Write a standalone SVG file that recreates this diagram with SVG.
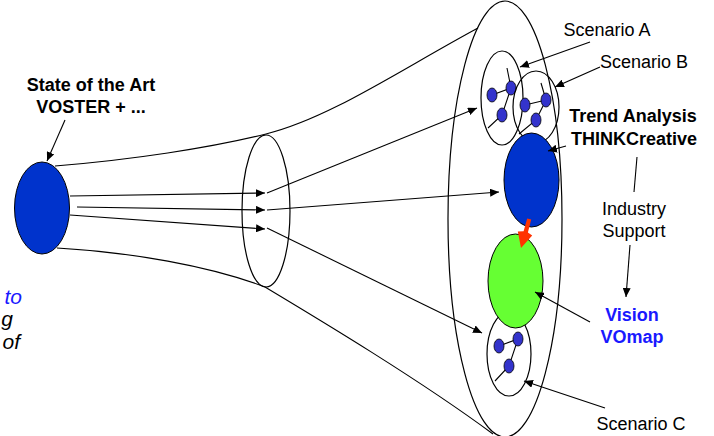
<svg xmlns="http://www.w3.org/2000/svg" width="714" height="436" viewBox="0 0 714 436">
<defs>
<style>
.ln{fill:none;stroke:#000;stroke-width:1.1}
.ol{fill:none;stroke:#000;stroke-width:1.2}
.t{font-family:"Liberation Sans",Arial,sans-serif;font-size:18px;fill:#000}
.b{font-weight:bold}
.blue{fill:#1919ff}
.it{font-family:"Liberation Sans",Arial,sans-serif;font-size:21px;font-style:italic}
.nd{fill:#3333cc;stroke:#000;stroke-width:0.8}
</style>
<marker id="ah" markerWidth="9" markerHeight="8" refX="9" refY="4" orient="auto" markerUnits="userSpaceOnUse">
<path d="M0,0 L9,4 L0,8 z" fill="#000"/>
</marker>
</defs>
<rect width="714" height="436" fill="#fff"/>

<g id="funnel">
<path class="ln" d="M55,166 C130,160 210,148 266,134 C330,118 400,70 478,28"/>
<path class="ln" d="M57,248 C130,252 210,266 265,287 C320,320 420,380 493,434"/>
</g>

<g id="big-ellipse">
<ellipse class="ol" cx="505" cy="219" rx="57" ry="218"/>
</g>

<g id="mid-ellipse">
<ellipse class="ol" cx="266" cy="211" rx="24" ry="76"/>
</g>

<g id="state-of-art">
<ellipse cx="42" cy="208" rx="27.5" ry="46" fill="#0033cc" stroke="#000" stroke-width="1"/>
</g>

<g id="scenario-a">
<ellipse class="ol" cx="502" cy="98" rx="21" ry="47"/>
<path class="ln" d="M507,68 L511,88 M492,95 L511,88 L502,115 L488,128"/>
<ellipse class="nd" cx="492" cy="95" rx="5" ry="7"/>
<ellipse class="nd" cx="511" cy="88" rx="5" ry="7"/>
<ellipse class="nd" cx="502" cy="115" rx="5" ry="7"/>
</g>

<g id="scenario-b">
<ellipse class="ol" cx="536" cy="107" rx="23" ry="36"/>
<path class="ln" d="M541,83 L546,100 M525,105 L546,100 L536,120 L519,134"/>
<ellipse class="nd" cx="525" cy="105" rx="5" ry="7"/>
<ellipse class="nd" cx="546" cy="100" rx="5" ry="7"/>
<ellipse class="nd" cx="536" cy="120" rx="5" ry="7"/>
</g>

<g id="trend">
<ellipse cx="531.5" cy="180" rx="27.5" ry="47" fill="#0033cc" stroke="#000" stroke-width="1"/>
</g>

<g id="scenario-c">
<ellipse class="ol" cx="509" cy="354" rx="22" ry="42"/>
<path class="ln" d="M499,346 L518,339 L509,366 L495,381"/>
<ellipse class="nd" cx="499" cy="346" rx="5" ry="7"/>
<ellipse class="nd" cx="518" cy="339" rx="5" ry="7"/>
<ellipse class="nd" cx="509" cy="366" rx="5" ry="7"/>
</g>

<g id="vision">
<ellipse cx="515.5" cy="281" rx="27.5" ry="47" fill="#66ff33" stroke="#000" stroke-width="1"/>
</g>

<g id="connectors">
<path class="ln" d="M70,196 L265,193" marker-end="url(#ah)"/>
<path class="ln" d="M77,207 L265,210" marker-end="url(#ah)"/>
<path class="ln" d="M70,215 L265,229" marker-end="url(#ah)"/>
<path class="ln" d="M267,193 L477,108" marker-end="url(#ah)"/>
<path class="ln" d="M267,210 L499,192" marker-end="url(#ah)"/>
<path class="ln" d="M267,228 L482,333" marker-end="url(#ah)"/>
<path class="ln" d="M65,120 L47,161" marker-end="url(#ah)"/>
<path class="ln" d="M590,42 L520,67" marker-end="url(#ah)"/>
<path class="ln" d="M600,67 L555,87" marker-end="url(#ah)"/>
<path class="ln" d="M566,146 L548,151" marker-end="url(#ah)"/>
<path class="ln" d="M637,157 L634,192"/>
<path class="ln" d="M630,245 L626,297" marker-end="url(#ah)"/>
<path class="ln" d="M590,322 L535,292" marker-end="url(#ah)"/>
<path class="ln" d="M605,408 L524,381" marker-end="url(#ah)"/>
<path d="M527.2,218.4 L531.2,219.6 L527.9,232.4 L532.2,235.5 L521,248 L517.8,231.5 L523.6,231.2 Z" fill="#ff3300"/>
</g>

<g id="labels">
<text class="t b" x="91" y="91" text-anchor="middle">State of the Art</text>
<text class="t b" x="91" y="113" text-anchor="middle">VOSTER + ...</text>
<text class="t" x="607" y="36" text-anchor="middle">Scenario A</text>
<text class="t" x="644" y="68" text-anchor="middle">Scenario B</text>
<text class="t b" x="633" y="122" text-anchor="middle">Trend Analysis</text>
<text class="t b" x="634" y="145" text-anchor="middle">THINKCreative</text>
<text class="t" x="634" y="215" text-anchor="middle">Industry</text>
<text class="t" x="634" y="237" text-anchor="middle">Support</text>
<text class="t b blue" x="632" y="321" text-anchor="middle">Vision</text>
<text class="t b blue" x="632" y="343" text-anchor="middle">VOmap</text>
<text class="t" x="641" y="430" text-anchor="middle">Scenario C</text>
<text class="it" x="22" y="304" text-anchor="end" fill="#1919ff">to</text>
<text class="it" x="13" y="326" text-anchor="end" fill="#000">g</text>
<text class="it" x="20" y="349" text-anchor="end" fill="#000">of</text>
</g>
</svg>
